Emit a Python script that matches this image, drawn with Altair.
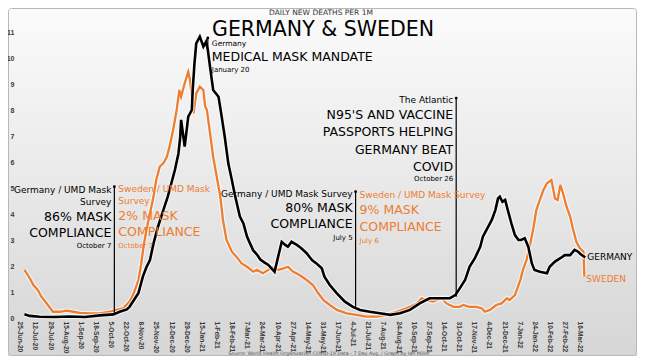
import altair as alt
import pandas as pd

# ---------------- data ----------------
# day offsets from 25-Jun-2020 and 7-day avg daily deaths per 1M
germany_day = [3, 9, 20, 37, 54, 71, 88, 103, 110, 118, 121, 126, 131, 136, 140, 144, 148, 153, 159, 164,
               168, 172, 176, 178, 179, 183, 187, 191, 192, 194, 196, 200, 204, 207, 209, 211, 215, 221, 224, 228,
               232, 236, 239, 245, 249, 253, 256, 260, 264, 268, 272, 277, 284, 288, 292, 296, 299, 303, 309, 314,
               320, 326, 331, 337, 340, 346, 354, 363, 372, 380, 391, 402, 414, 425, 436, 447, 458, 470, 481, 487,
               492, 498, 503, 509, 515, 518, 524, 528, 532, 535, 537, 540, 543, 546, 550, 554, 558, 561, 565, 569,
               573, 576, 582, 590, 593, 599, 605, 610, 616, 621, 625, 629, 633]
germany_val = [0.14, 0.08, 0.05, 0.04, 0.06, 0.04, 0.10, 0.14, 0.24, 0.33, 0.43, 0.69, 0.95, 1.59, 1.95, 2.23, 2.87, 3.51, 4.15, 4.67,
               5.18, 5.69, 6.33, 6.97, 7.62, 6.59, 7.74, 8.00, 8.77, 9.79, 10.56, 10.82, 10.44, 10.63, 10.31, 9.79, 8.77, 8.51, 7.87, 6.97,
               5.95, 5.31, 4.80, 3.90, 3.64, 3.13, 2.90, 2.60, 2.45, 2.25, 2.15, 2.04, 1.78, 2.36, 2.93, 2.81, 2.74, 2.93, 2.81, 2.68,
               2.49, 2.23, 2.10, 1.91, 1.59, 1.27, 0.95, 0.63, 0.43, 0.31, 0.24, 0.18, 0.12, 0.18, 0.31, 0.56, 0.76, 0.76, 0.76, 0.88,
               1.14, 1.46, 1.97, 2.30, 2.74, 3.13, 3.51, 3.77, 4.15, 4.60, 4.67, 4.47, 4.54, 4.15, 3.64, 3.19, 3.00, 3.00, 3.07, 2.74,
               2.10, 1.85, 1.78, 1.72, 1.97, 2.17, 2.30, 2.42, 2.42, 2.62, 2.55, 2.42, 2.33]

sweden_day = [3, 9, 13, 18, 22, 28, 35, 43, 50, 58, 65, 76, 88, 99, 106, 114, 121, 125, 131, 134,
              137, 140, 144, 148, 151, 155, 159, 163, 166, 170, 174, 177, 179, 183, 187, 189, 191, 193, 196, 200,
              204, 206, 208, 211, 215, 219, 223, 226, 230, 236, 241, 247, 253, 260, 264, 271, 277, 282, 288, 294,
              299, 305, 312, 320, 327, 333, 339, 346, 354, 365, 376, 387, 399, 410, 421, 432, 444, 449, 455, 462,
              472, 477, 485, 492, 496, 503, 511, 517, 520, 526, 533, 539, 545, 548, 554, 560, 563, 567, 571, 575,
              578, 582, 586, 590, 595, 599, 602, 605, 608, 612, 616, 619, 623, 627, 631, 632]
sweden_val = [1.85, 1.53, 1.27, 1.08, 0.82, 0.56, 0.24, 0.24, 0.28, 0.24, 0.20, 0.18, 0.18, 0.24, 0.31, 0.37, 0.63, 0.88, 1.46, 2.05,
              2.80, 3.38, 4.03, 4.67, 5.31, 5.82, 5.95, 6.20, 6.59, 7.23, 8.00, 8.77, 8.51, 9.03, 9.47, 9.15, 8.51, 7.87, 8.64, 8.90,
              8.77, 8.13, 8.00, 7.23, 6.20, 5.43, 4.67, 3.77, 3.00, 2.55, 2.36, 2.10, 1.97, 1.78, 1.85, 1.72, 1.85, 1.97, 1.85, 1.91,
              1.97, 1.78, 1.65, 1.46, 1.27, 0.95, 0.69, 0.50, 0.31, 0.18, 0.12, 0.05, 0.05, 0.12, 0.24, 0.37, 0.56, 0.76, 0.69, 0.63,
              0.76, 0.56, 0.43, 0.43, 0.50, 0.43, 0.43, 0.37, 0.24, 0.31, 0.50, 0.56, 0.76, 0.69, 0.88, 1.46, 1.85, 2.23, 2.81, 3.51,
              4.15, 4.54, 4.92, 5.18, 5.31, 4.60, 4.54, 5.12, 4.80, 4.28, 3.90, 3.45, 2.93, 2.68, 2.55, 1.59]

tick_labels = ["25-Jun-20", "12-Jul-20", "29-Jul-20", "15-Aug-20", "1-Sep-20", "18-Sep-20", "5-Oct-20",
               "22-Oct-20", "8-Nov-20", "25-Nov-20", "12-Dec-20", "29-Dec-20", "15-Jan-21", "1-Feb-21",
               "18-Feb-21", "7-Mar-21", "24-Mar-21", "10-Apr-21", "27-Apr-21", "14-May-21", "31-May-21",
               "17-Jun-21", "4-Jul-21", "21-Jul-21", "7-Aug-21", "24-Aug-21", "10-Sep-21", "27-Sep-21",
               "14-Oct-21", "31-Oct-21", "17-Nov-21", "4-Dec-21", "21-Dec-21", "7-Jan-22", "24-Jan-22",
               "10-Feb-22", "27-Feb-22", "16-Mar-22"]
y_ticks = [0, 1, 2, 3, 4, 5, 6, 7, 8, 9, 10, 11]

# annotation markers: date, top of line, bottom of line
marker_dates = ["2020-10-07", "2021-01-20", "2021-07-05", "2021-10-26"]
marker_top = [5.05, 10.77, 4.86, 8.46]
marker_bottom = [0.12, 10.25, 0.43, 0.82]

BLACK = "#000000"
ORANGE = "#ED7D31"

# annotation texts: (date, value, text, colour, size, side)
annotations = [
    ("2020-10-07", 4.92, "Germany / UMD Mask", BLACK, 9, "L"),
    ("2020-10-07", 4.46, "Survey", BLACK, 9, "L"),
    ("2020-10-07", 3.88, "86% MASK", BLACK, 12.5, "L"),
    ("2020-10-07", 3.27, "COMPLIANCE", BLACK, 12.5, "L"),
    ("2020-10-07", 2.77, "October 7", BLACK, 7, "L"),
    ("2020-10-07", 4.96, "Sweden / UMD Mask", ORANGE, 9, "R"),
    ("2020-10-07", 4.50, "Survey", ORANGE, 9, "R"),
    ("2020-10-07", 3.92, "2% MASK", ORANGE, 12.5, "R"),
    ("2020-10-07", 3.31, "COMPLIANCE", ORANGE, 12.5, "R"),
    ("2020-10-07", 2.77, "October 7", ORANGE, 7, "R"),
    ("2021-01-20", 10.54, "Germany", BLACK, 7.5, "R"),
    ("2021-01-20", 10.03, "MEDICAL MASK MANDATE", BLACK, 12.5, "R"),
    ("2021-01-20", 9.54, "January 20", BLACK, 7, "R"),
    ("2021-07-05", 4.77, "Germany / UMD Mask Survey", BLACK, 9, "L"),
    ("2021-07-05", 4.23, "80% MASK", BLACK, 12.5, "L"),
    ("2021-07-05", 3.63, "COMPLIANCE", BLACK, 12.5, "L"),
    ("2021-07-05", 3.08, "July 5", BLACK, 7, "L"),
    ("2021-07-05", 4.73, "Sweden / UMD Mask Survey", ORANGE, 9, "R"),
    ("2021-07-05", 4.15, "9% MASK", ORANGE, 12.5, "R"),
    ("2021-07-05", 3.50, "COMPLIANCE", ORANGE, 12.5, "R"),
    ("2021-07-05", 2.96, "July 6", ORANGE, 7, "R"),
    ("2021-10-26", 8.37, "The Atlantic", BLACK, 9, "L"),
    ("2021-10-26", 7.81, "N95'S AND VACCINE", BLACK, 12.5, "L"),
    ("2021-10-26", 7.15, "PASSPORTS HELPING", BLACK, 12.5, "L"),
    ("2021-10-26", 6.46, "GERMANY BEAT", BLACK, 12.5, "L"),
    ("2021-10-26", 5.81, "COVID", BLACK, 12.5, "L"),
    ("2021-10-26", 5.33, "October 26", BLACK, 7, "L"),
]
end_labels = [("GERMANY", BLACK, 2.35), ("SWEDEN", ORANGE, 1.50)]

# ---------------- tables ----------------
BASE = pd.Timestamp("2020-06-25")


def to_dates(days):
    return [BASE + pd.Timedelta(days=int(d)) for d in days]


ger = pd.DataFrame({"date": to_dates(germany_day), "v": germany_val})
swe = pd.DataFrame({"date": to_dates(sweden_day), "v": sweden_val})
markers = pd.DataFrame({"date": pd.to_datetime(marker_dates), "v1": marker_top, "v2": marker_bottom})
ann = pd.DataFrame(annotations, columns=["date", "v", "text", "color", "size", "side"])
ann["date"] = pd.to_datetime(ann["date"])
ends = pd.DataFrame({"date": [to_dates([germany_day[-1]])[0], to_dates([sweden_day[-1]])[0]],
                     "v": [e[2] for e in end_labels],
                     "text": [e[0] for e in end_labels],
                     "color": [e[1] for e in end_labels]})

tick_vals = [alt.DateTime(year=t.year, month=t.month, date=t.day)
             for t in pd.to_datetime(tick_labels, format="%d-%b-%y")]

W, H = 616, 299
FONT = "DejaVu Sans"

xscale = alt.Scale(domain=[alt.DateTime(year=2020, month=6, date=23),
                           alt.DateTime(year=2022, month=5, date=16)])
xaxis = alt.Axis(values=tick_vals, format="%-d-%b-%y", labelAngle=90, labelFont="Liberation Sans",
                 labelFontWeight="bold", labelFontSize=6.6, labelColor="#3a3a3a", labelPadding=3,
                 labelOffset=-2, ticks=False, domain=False, grid=False, title=None,
                 labelOverlap=False, labelFlush=False, zindex=1)
yscale = alt.Scale(domain=[0, 11.5], nice=False, zero=True)
yaxis = alt.Axis(values=y_ticks, labelFont="Liberation Sans", labelFontWeight="bold", labelFontSize=7,
                 labelColor="#3a3a3a", labelPadding=6, ticks=False, domain=False, grid=False, title=None,
                 zindex=1)


def X(field="date:T"):
    return alt.X(field, scale=xscale, axis=xaxis)


def Y(field="v:Q"):
    return alt.Y(field, scale=yscale, axis=yaxis)


one = pd.DataFrame({"a": [0]})

bg = alt.Chart(one).mark_rect(
    fill=alt.Gradient(gradient="linear",
                      stops=[alt.GradientStop(color="#fbfbfb", offset=0),
                             alt.GradientStop(color="#e9e9e9", offset=0.5),
                             alt.GradientStop(color="#d6d6d6", offset=1)],
                      x1=0, x2=0, y1=0, y2=1)
).encode(x=alt.value(-12), x2=alt.value(W + 1), y=alt.value(-11), y2=alt.value(H + 38))

border = alt.Chart(one).mark_rect(filled=False, stroke="#b8b8b8", strokeWidth=1, cornerRadius=3).encode(
    x=alt.value(-11.5), x2=alt.value(W + 0.5), y=alt.value(-10.5), y2=alt.value(H + 37.5))

halo_s = alt.Chart(swe).mark_line(color="white", strokeWidth=4.5, opacity=0.7).encode(x=X(), y=Y())
line_s = alt.Chart(swe).mark_line(color=ORANGE, strokeWidth=2.3).encode(x=X(), y=Y())
halo_g = alt.Chart(ger).mark_line(color="white", strokeWidth=4.8, opacity=0.7).encode(x=X(), y=Y())
line_g = alt.Chart(ger).mark_line(color=BLACK, strokeWidth=2.6).encode(x=X(), y=Y())

rules = alt.Chart(markers).mark_rule(color=BLACK, strokeWidth=1.2).encode(x=X(), y=Y("v1:Q"), y2="v2:Q")
dots = alt.Chart(markers).mark_point(color=BLACK, filled=True, size=8, opacity=1).encode(x=X(), y=Y("v1:Q"))

txt_left = alt.Chart(ann[ann["side"] == "L"]).mark_text(align="right", baseline="middle", dx=-3, font=FONT).encode(
    x=X(), y=Y(), text="text:N", color=alt.Color("color:N", scale=None), size=alt.Size("size:Q", scale=None))
txt_right = alt.Chart(ann[ann["side"] == "R"]).mark_text(align="left", baseline="middle", dx=4, font=FONT).encode(
    x=X(), y=Y(), text="text:N", color=alt.Color("color:N", scale=None), size=alt.Size("size:Q", scale=None))
txt_end = alt.Chart(ends).mark_text(align="left", baseline="middle", dx=2, font=FONT, fontSize=9).encode(
    x=X(), y=Y(), text="text:N", color=alt.Color("color:N", scale=None))

title = alt.Chart(one).mark_text(text="GERMANY & SWEDEN", font=FONT, fontSize=20.5, color=BLACK,
                                 align="center", baseline="middle").encode(x=alt.value(303), y=alt.value(10.5))
subtitle = alt.Chart(one).mark_text(text="DAILY NEW DEATHS PER 1M", font=FONT, fontSize=7.5, color="#333333",
                                    align="center", baseline="middle").encode(x=alt.value(301), y=alt.value(-6.5))
source = alt.Chart(one).mark_text(
    text="Source: World Health Organization COVID-19 Data - 7  Day Avg. / Graph by Ian Miller",
    font=FONT, fontSize=4.8, color="#555555", align="center", baseline="middle"
).encode(x=alt.value(309), y=alt.value(H + 36.3))

chart = alt.layer(bg, border, halo_s, line_s, halo_g, line_g, rules, dots, txt_left, txt_right, txt_end,
                  title, subtitle, source).properties(
    width=W, height=H,
    padding={"left": 12, "top": 11, "right": 1, "bottom": 38},
    autosize=alt.AutoSizeParams(type="none"),
    background="white",
).configure_view(strokeWidth=0)

chart.save("out.html", embed_options={"renderer": "svg", "actions": False})
